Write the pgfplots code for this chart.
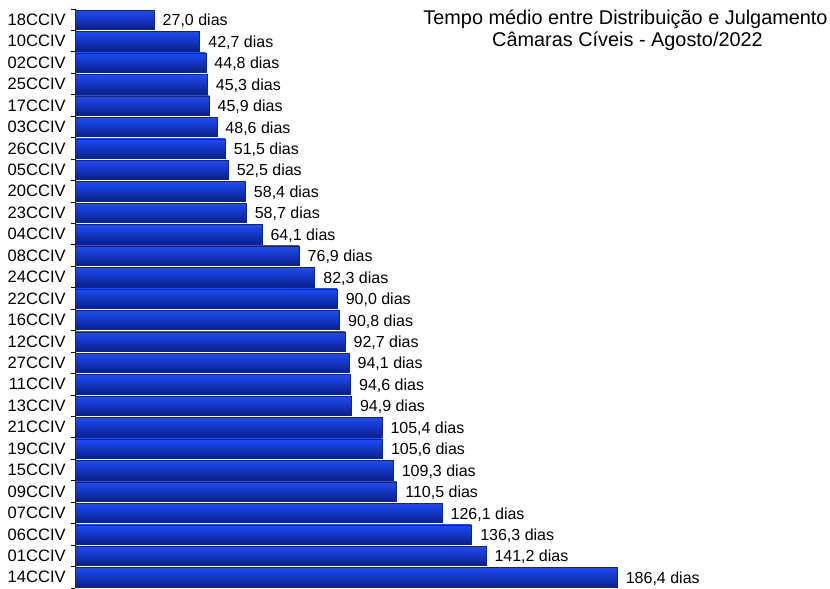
\documentclass[border=0pt]{standalone}
\usepackage{pgfplots}
\pgfplotsset{compat=1.18}
\usepackage{fontspec}
\setmainfont{Liberation Sans}
\definecolor{bartop}{HTML}{1E4CF6}
\definecolor{barmid}{HTML}{1642EA}
\definecolor{barbot}{HTML}{0A2088}
\definecolor{baredge}{HTML}{0C2490}
\pgfplotsset{mybar/.style={xbar, bar width=14.5pt, draw=baredge, line width=0.2pt,
  top color=bartop, middle color=barmid, bottom color=barbot,
  nodes near coords={\pgfmathprintnumber[fixed, fixed zerofill, precision=1, use comma, assume math mode=true]{\pgfplotspointmeta} dias},
  point meta=x,
  every node near coord/.append style={font=\fontsize{12}{14}\selectfont, text=black, anchor=west, inner sep=0pt, xshift=6.5pt, yshift=-1pt}}}
\begin{document}
\begin{tikzpicture}
\fontsize{12}{14}\selectfont
\begin{axis}[
  at={(0,0)}, anchor=south west,
  scale only axis,
  width=565.875pt, height=434.25pt,
  xmin=0, xmax=259.7,
  ymin=-0.5, ymax=26.5,
  axis y line*=left,
  axis x line=none,
  ytick={0,...,26},
  yticklabels={14CCIV,01CCIV,06CCIV,07CCIV,09CCIV,15CCIV,19CCIV,21CCIV,13CCIV,11CCIV,27CCIV,12CCIV,16CCIV,22CCIV,24CCIV,08CCIV,04CCIV,23CCIV,20CCIV,05CCIV,26CCIV,03CCIV,17CCIV,25CCIV,02CCIV,10CCIV,18CCIV},
  minor ytick={-0.5,0.5,...,26.5},
  major tick length=0pt,
  minor tick length=3pt,
  tick align=outside,
  tick style={black, line width=0.6pt},
  axis line style={black, line width=0.8pt},
  yticklabel style={font=\fontsize{12.4}{14}\selectfont, inner sep=0pt, xshift=-7.2pt},
  clip=false,
]
\addplot[mybar] coordinates {(186.4,0)};
\addplot[mybar] coordinates {(141.2,1)};
\addplot[mybar] coordinates {(136.3,2)};
\addplot[mybar] coordinates {(126.1,3)};
\addplot[mybar] coordinates {(110.5,4)};
\addplot[mybar] coordinates {(109.3,5)};
\addplot[mybar] coordinates {(105.6,6)};
\addplot[mybar] coordinates {(105.4,7)};
\addplot[mybar] coordinates {(94.9,8)};
\addplot[mybar] coordinates {(94.6,9)};
\addplot[mybar] coordinates {(94.1,10)};
\addplot[mybar] coordinates {(92.7,11)};
\addplot[mybar] coordinates {(90.8,12)};
\addplot[mybar] coordinates {(90.0,13)};
\addplot[mybar] coordinates {(82.3,14)};
\addplot[mybar] coordinates {(76.9,15)};
\addplot[mybar] coordinates {(64.1,16)};
\addplot[mybar] coordinates {(58.7,17)};
\addplot[mybar] coordinates {(58.4,18)};
\addplot[mybar] coordinates {(52.5,19)};
\addplot[mybar] coordinates {(51.5,20)};
\addplot[mybar] coordinates {(48.6,21)};
\addplot[mybar] coordinates {(45.9,22)};
\addplot[mybar] coordinates {(45.3,23)};
\addplot[mybar] coordinates {(44.8,24)};
\addplot[mybar] coordinates {(42.7,25)};
\addplot[mybar] coordinates {(27.0,26)};
\end{axis}
\node[anchor=base, font=\fontsize{14.9}{16}\selectfont] at (412.5pt,422.25pt) {Tempo médio entre Distribuição e Julgamento};
\node[anchor=base, font=\fontsize{14.9}{16}\selectfont] at (414pt,405.75pt) {Câmaras Cíveis - Agosto/2022};
\pgfresetboundingbox
\path[use as bounding box] (-56.625pt,0) rectangle (565.875pt,441pt);
\end{tikzpicture}
\end{document}
